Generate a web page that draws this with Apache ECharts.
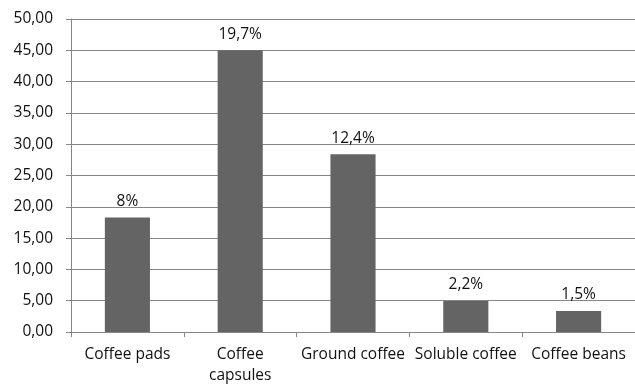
<!DOCTYPE html>
<html>
<head>
<meta charset="utf-8">
<script src="https://cdn.jsdelivr.net/npm/echarts@6/dist/echarts.min.js"></script>
<style>
  html, body { margin: 0; padding: 0; background: #fff; }
  #chart { width: 635px; height: 386px; }
</style>
</head>
<body>
<div id="chart"></div>
<script>
// Coffee product categories (x axis)
const categories = ['Coffee pads', 'Coffee\ncapsules', 'Ground coffee', 'Soluble coffee', 'Coffee beans'];
// Bar heights
const values = [18.3, 45.0, 28.4, 4.95, 3.35];
// Share printed above each bar (%)
const shares = [8, 19.7, 12.4, 2.2, 1.5];

const axisGray = '#868686';
const fontFamily = '"Open Sans", "Liberation Sans", sans-serif';

const chart = echarts.init(document.getElementById('chart'), null, { renderer: 'canvas' });
chart.setOption({
  animation: false,
  backgroundColor: '#ffffff',
  grid: { left: 71, right: -7, top: 19, bottom: 54, containLabel: false },
  xAxis: {
    type: 'category',
    data: categories,
    axisLine: { show: true, lineStyle: { color: axisGray, width: 1 } },
    axisTick: { show: true, alignWithLabel: false, length: 5, lineStyle: { color: axisGray } },
    axisLabel: {
      interval: 0,
      color: '#111',
      fontFamily: fontFamily,
      fontSize: 15.5,
      lineHeight: 21,
      margin: 12
    },
    splitLine: { show: false }
  },
  yAxis: {
    type: 'value',
    min: 0,
    max: 50,
    interval: 5,
    axisLine: { show: true, lineStyle: { color: axisGray, width: 1 } },
    axisTick: { show: true, length: 5, lineStyle: { color: axisGray } },
    axisLabel: {
      color: '#111',
      fontFamily: fontFamily,
      fontSize: 15.5,
      margin: 18,
      formatter: v => v.toFixed(2).replace('.', ',')
    },
    splitLine: { show: true, lineStyle: { color: axisGray, width: 1 } }
  },
  series: [{
    type: 'bar',
    data: values,
    barWidth: '40%',
    itemStyle: { color: '#646464' },
    label: {
      show: true,
      position: 'top',
      distance: 8,
      color: '#111',
      fontFamily: fontFamily,
      fontSize: 15.5,
      formatter: p => String(shares[p.dataIndex]).replace('.', ',') + '%'
    }
  }]
});
</script>
</body>
</html>
